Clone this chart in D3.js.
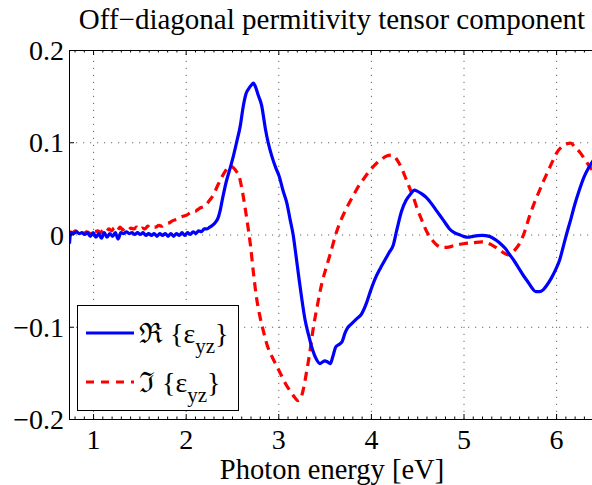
<!DOCTYPE html>
<html>
<head>
<meta charset="utf-8">
<script src="https://cdn.jsdelivr.net/npm/d3@7"></script>
<style>
  body { margin: 0; background: #fff; }
  svg { display: block; }
  text { font-family: "Liberation Serif", "Times New Roman", serif; fill: #000; }
  .grid line { stroke: #666; stroke-dasharray: 1.2, 5.8; }
  .grid path { display: none; }
</style>
</head>
<body>
<div id="chart"></div>
<script>
// Re{eps_yz}: energy [eV] and value
var reEnergy = [0.745, 0.76, 0.79, 0.82, 0.85, 0.88, 0.91, 0.94, 0.97, 1.00, 1.03, 1.06, 1.09, 1.12, 1.15, 1.18, 1.21, 1.24, 1.27, 1.30,
    1.33, 1.36, 1.39, 1.42, 1.45, 1.48, 1.51, 1.54, 1.57, 1.60, 1.63, 1.66, 1.69, 1.72, 1.75, 1.78, 1.81, 1.84, 1.87, 1.90,
    1.93, 1.96, 1.99, 2.02, 2.05, 2.08, 2.11, 2.14, 2.17, 2.20, 2.23, 2.26, 2.29, 2.32, 2.35, 2.37, 2.40, 2.44, 2.48, 2.51,
    2.55, 2.59, 2.62, 2.65, 2.68, 2.71, 2.73, 2.75, 2.78, 2.82, 2.86, 2.89, 2.93, 2.97, 3.01, 3.05, 3.09, 3.13, 3.16, 3.19,
    3.22, 3.25, 3.29, 3.33, 3.37, 3.41, 3.45, 3.48, 3.50, 3.53, 3.56, 3.59, 3.62, 3.66, 3.69, 3.72, 3.75, 3.79, 3.84, 3.90,
    3.95, 4.00, 4.05, 4.10, 4.15, 4.20, 4.24, 4.28, 4.33, 4.38, 4.43, 4.47, 4.50, 4.55, 4.60, 4.65, 4.70, 4.75, 4.80, 4.85,
    4.90, 4.95, 5.00, 5.05, 5.10, 5.20, 5.28, 5.35, 5.40, 5.45, 5.50, 5.55, 5.60, 5.65, 5.70, 5.74, 5.78, 5.82, 5.86, 5.90,
    5.95, 6.00, 6.04, 6.08, 6.12, 6.16, 6.20, 6.25, 6.30, 6.35, 6.40, 6.44];
var reValues = [-0.010, 0.002, 0.001, 0.003, 0.001, 0.002, 0.000, 0.002, -0.002, 0.002, -0.003, 0.001, -0.004, 0.002, -0.003, 0.001, -0.002, 0.002, -0.005, 0.002,
    0.001, 0.003, 0.001, 0.002, 0.000, 0.002, 0.000, 0.002, -0.001, 0.001, -0.001, 0.001, -0.002, 0.001, -0.001, 0.001, -0.002, 0.001, -0.002, 0.001,
    -0.001, 0.002, -0.001, 0.002, 0.000, 0.003, 0.001, 0.004, 0.003, 0.006, 0.006, 0.008, 0.010, 0.013, 0.018, 0.025, 0.040, 0.058, 0.072, 0.083,
    0.100, 0.118, 0.138, 0.152, 0.158, 0.162, 0.164, 0.161, 0.152, 0.140, 0.115, 0.100, 0.085, 0.073, 0.063, 0.048, 0.035, 0.015, 0.000, -0.022,
    -0.045, -0.067, -0.093, -0.110, -0.125, -0.135, -0.140, -0.138, -0.137, -0.138, -0.140, -0.132, -0.122, -0.119, -0.116, -0.107, -0.101, -0.097, -0.092, -0.086,
    -0.075, -0.060, -0.047, -0.037, -0.028, -0.019, -0.012, 0.005, 0.025, 0.037, 0.044, 0.048, 0.047, 0.044, 0.040, 0.034, 0.027, 0.020, 0.013, 0.006,
    0.002, 0.000, -0.002, -0.003, -0.002, -0.001, -0.002, -0.006, -0.010, -0.015, -0.022, -0.029, -0.037, -0.045, -0.052, -0.058, -0.062, -0.062, -0.060, -0.055,
    -0.047, -0.037, -0.027, -0.012, 0.003, 0.017, 0.032, 0.048, 0.062, 0.072, 0.080, 0.085];

// Im{eps_yz}
var imEnergy = [0.745, 0.78, 0.81, 0.84, 0.87, 0.90, 0.93, 0.96, 0.99, 1.02, 1.05, 1.08, 1.11, 1.14, 1.17, 1.20, 1.23, 1.26, 1.29, 1.32,
    1.35, 1.38, 1.41, 1.44, 1.47, 1.50, 1.53, 1.56, 1.59, 1.62, 1.65, 1.68, 1.71, 1.74, 1.77, 1.80, 1.83, 1.86, 1.89, 1.92,
    1.95, 1.98, 2.01, 2.04, 2.07, 2.10, 2.13, 2.16, 2.19, 2.22, 2.25, 2.28, 2.31, 2.34, 2.37, 2.40, 2.43, 2.46, 2.49, 2.52,
    2.55, 2.58, 2.61, 2.64, 2.67, 2.70, 2.73, 2.76, 2.80, 2.84, 2.88, 2.93, 2.98, 3.03, 3.08, 3.13, 3.18, 3.21, 3.24, 3.27,
    3.30, 3.34, 3.38, 3.42, 3.47, 3.52, 3.57, 3.62, 3.67, 3.72, 3.77, 3.82, 3.87, 3.92, 3.97, 4.02, 4.07, 4.12, 4.17, 4.22,
    4.26, 4.30, 4.34, 4.38, 4.42, 4.46, 4.50, 4.54, 4.58, 4.62, 4.67, 4.72, 4.77, 4.82, 4.90, 5.00, 5.10, 5.20, 5.28, 5.35,
    5.42, 5.48, 5.52, 5.57, 5.61, 5.66, 5.71, 5.76, 5.81, 5.86, 5.91, 5.96, 6.01, 6.06, 6.11, 6.16, 6.20, 6.25, 6.30, 6.36,
    6.42, 6.45];
var imValues = [0.003, 0.002, 0.004, 0.002, 0.003, 0.001, 0.003, 0.002, 0.005, 0.003, 0.004, 0.002, 0.005, 0.003, 0.006, 0.004, 0.007, 0.004, 0.008, 0.005,
    0.007, 0.005, 0.007, 0.006, 0.008, 0.005, 0.007, 0.006, 0.009, 0.007, 0.008, 0.008, 0.010, 0.009, 0.011, 0.012, 0.013, 0.015, 0.016, 0.017,
    0.019, 0.020, 0.021, 0.023, 0.025, 0.025, 0.027, 0.029, 0.030, 0.032, 0.036, 0.040, 0.045, 0.052, 0.058, 0.064, 0.069, 0.073, 0.074, 0.072,
    0.068, 0.062, 0.048, 0.030, 0.010, -0.012, -0.040, -0.065, -0.088, -0.105, -0.120, -0.132, -0.142, -0.152, -0.162, -0.170, -0.177, -0.180, -0.178, -0.168,
    -0.152, -0.128, -0.100, -0.078, -0.053, -0.035, -0.018, 0.000, 0.014, 0.025, 0.035, 0.044, 0.053, 0.060, 0.067, 0.073, 0.078, 0.082, 0.085, 0.086,
    0.084, 0.078, 0.070, 0.060, 0.050, 0.040, 0.028, 0.018, 0.008, 0.000, -0.007, -0.012, -0.014, -0.014, -0.012, -0.010, -0.009, -0.008, -0.010, -0.014,
    -0.019, -0.022, -0.020, -0.015, -0.009, 0.003, 0.019, 0.033, 0.045, 0.057, 0.068, 0.079, 0.089, 0.095, 0.098, 0.099, 0.095, 0.090, 0.083, 0.074,
    0.066, 0.062];

var xTicks = [1, 2, 3, 4, 5, 6];
var yTicks = [-0.2, -0.1, 0, 0.1, 0.2];
var yTickLabels = ["\u22120.2", "\u22120.1", "0", "0.1", "0.2"];

var width = 592, height = 485;
var margin = { top: 50, left: 69, bottom: 419, right: 595 };

var svg = d3.select("#chart").append("svg")
    .attr("width", width)
    .attr("height", height);

var x = d3.scaleLinear().domain([0.74, 6.42]).range([margin.left, margin.right]);
var y = d3.scaleLinear().domain([-0.2, 0.2]).range([margin.bottom, margin.top]);

// dotted grid
svg.append("g")
    .attr("class", "grid")
    .attr("transform", `translate(0,${margin.bottom})`)
    .call(d3.axisBottom(x).tickValues(xTicks).tickSize(-(margin.bottom - margin.top)).tickFormat(""));
svg.append("g")
    .attr("class", "grid")
    .attr("transform", `translate(${margin.left},0)`)
    .call(d3.axisLeft(y).tickValues(yTicks.slice(1, -1)).tickSize(-(margin.right - margin.left)).tickFormat(""));

// curves
var line = d3.line()
    .x(d => x(d[0]))
    .y(d => y(d[1]))
    .curve(d3.curveMonotoneX);

svg.append("clipPath").attr("id", "plotclip")
    .append("rect")
    .attr("x", margin.left).attr("y", margin.top)
    .attr("width", margin.right - margin.left)
    .attr("height", margin.bottom - margin.top);

var plot = svg.append("g").attr("clip-path", "url(#plotclip)");

plot.append("path")
    .datum(imEnergy.map((e, i) => [e, imValues[i]]))
    .attr("d", line)
    .attr("fill", "none")
    .attr("stroke", "#ff0000")
    .attr("stroke-width", 3.2)
    .attr("stroke-dasharray", "9,6");

plot.append("path")
    .datum(reEnergy.map((e, i) => [e, reValues[i]]))
    .attr("d", line)
    .attr("fill", "none")
    .attr("stroke", "#0000ff")
    .attr("stroke-width", 3.2)
    .attr("stroke-linejoin", "round");

// axes box
var minorTicks = d3.range(8, 65).map(d => d / 10).filter(d => xTicks.indexOf(d) < 0);

function styleAxis(g) {
    g.select(".domain").attr("stroke", "#000");
    g.selectAll(".tick line").attr("stroke", "#000");
}

svg.append("g")
    .attr("transform", `translate(0,${margin.bottom})`)
    .call(d3.axisBottom(x).tickValues(minorTicks).tickSize(-2.5).tickSizeOuter(0).tickFormat(""))
    .call(styleAxis);
svg.append("g")
    .attr("transform", `translate(0,${margin.top})`)
    .call(d3.axisTop(x).tickValues(minorTicks).tickSize(-2.5).tickSizeOuter(0).tickFormat(""))
    .call(styleAxis);
svg.append("g")
    .attr("transform", `translate(0,${margin.top})`)
    .call(d3.axisTop(x).tickValues(xTicks).tickSize(-5).tickSizeOuter(0).tickFormat(""))
    .call(styleAxis);

var xAxis = svg.append("g")
    .attr("transform", `translate(0,${margin.bottom})`)
    .call(d3.axisBottom(x).tickValues(xTicks).tickSize(-5).tickSizeOuter(0).tickFormat(d3.format("d")))
    .call(styleAxis);
xAxis.selectAll("text")
    .attr("y", 30)
    .attr("dy", 0)
    .style("font-size", "28px");

var yAxis = svg.append("g")
    .attr("transform", `translate(${margin.left},0)`)
    .call(d3.axisLeft(y).tickValues(yTicks).tickSize(-5).tickSizeOuter(0).tickFormat((d, i) => yTickLabels[i]))
    .call(styleAxis);
yAxis.selectAll("text")
    .attr("x", -5)
    .attr("dy", "0.34em")
    .style("font-size", "28px");

svg.selectAll(".domain").attr("stroke-width", 1);

// title and label
var cx = (margin.left + margin.right) / 2;
svg.append("text")
    .attr("x", cx)
    .attr("y", 29)
    .attr("text-anchor", "middle")
    .style("font-size", "29px")
    .text("Off\u2212diagonal permitivity tensor component");

svg.append("text")
    .attr("x", cx)
    .attr("y", 479)
    .attr("text-anchor", "middle")
    .style("font-size", "28.5px")
    .text("Photon energy [eV]");

// legend
var legend = svg.append("g");
legend.append("rect")
    .attr("x", 77.5).attr("y", 305.5)
    .attr("width", 161).attr("height", 105)
    .attr("fill", "#fff")
    .attr("stroke", "#000")
    .attr("stroke-width", 1);

var entries = [
    { sym: "\u211C", color: "#0000ff", dash: null, y: 333 },
    { sym: "\u2111", color: "#ff0000", dash: "8,7", y: 382 }
];

entries.forEach(function (d) {
    legend.append("line")
        .attr("x1", 86).attr("x2", 134)
        .attr("y1", d.y).attr("y2", d.y)
        .attr("stroke", d.color)
        .attr("stroke-width", 3.2)
        .attr("stroke-dasharray", d.dash);
    var t = legend.append("text")
        .attr("x", 139)
        .attr("y", d.y + 10)
        .style("font-size", "28px");
    t.append("tspan").text(d.sym + " {\u03B5");
    t.append("tspan").attr("dy", 10).style("font-size", "21px").text("yz");
    t.append("tspan").attr("dy", -10).text("}");
});
</script>
</body>
</html>
